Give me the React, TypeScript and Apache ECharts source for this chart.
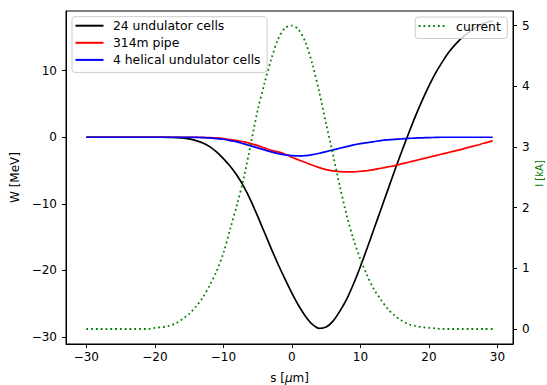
import React, { useEffect, useRef } from 'react';
import * as echarts from 'echarts';

const S = [
  -30, -29, -28, -27, -26, -25, -24, -23, -22, -21,
  -20, -19, -18, -17, -16, -15, -14, -13, -12, -11,
  -10, -9, -8, -7, -6, -5, -4, -3, -2, -1,
  0, 1, 2, 3, 4, 5, 6, 7, 8, 9,
  10, 11, 12, 13, 14, 15, 16, 17, 18, 19,
  20, 21, 22, 23, 24, 25, 26, 27, 28, 29.3,
];

const W_UNDULATOR = [
  0, 0, 0, 0, 0, 0, 0, 0, 0, 0,
  0, 0, -0.02, -0.05, -0.1, -0.25, -0.5, -0.85, -1.4, -2.2,
  -3.2, -4.35, -5.75, -7.45, -9.5, -11.85, -14.3, -16.75, -19.1, -21.3,
  -23.4, -25.3, -26.9, -28.1, -28.7, -28.5, -27.6, -26.1, -24.3, -22.0,
  -19.4, -16.6, -13.7, -10.8, -7.9, -5.0, -2.2, 0.5, 3.1, 5.5,
  7.7, 9.7, 11.4, 12.9, 14.1, 15.1, 15.9, 16.6, 17.1, 17.5,
];

const W_PIPE = [
  0, 0, 0, 0, 0, 0, 0, 0, 0, 0,
  0, 0, 0, 0, 0, 0, 0, -0.02, -0.05, -0.1,
  -0.2, -0.35, -0.5, -0.7, -0.95, -1.25, -1.6, -1.95, -2.2, -2.55,
  -3.0, -3.4, -3.8, -4.2, -4.55, -4.85, -5.05, -5.15, -5.2, -5.2,
  -5.1, -5.0, -4.85, -4.65, -4.45, -4.25, -4.0, -3.75, -3.5, -3.25,
  -3.0, -2.75, -2.5, -2.25, -2.0, -1.75, -1.45, -1.2, -0.9, -0.55,
];

const W_HELICAL = [
  0, 0, 0, 0, 0, 0, 0, 0, 0, 0,
  0, 0, 0, 0, 0, 0, -0.02, -0.05, -0.1, -0.2,
  -0.3, -0.5, -0.7, -1.0, -1.3, -1.6, -1.9, -2.2, -2.45, -2.65,
  -2.75, -2.8, -2.75, -2.6, -2.4, -2.15, -1.9, -1.65, -1.4, -1.15,
  -0.95, -0.8, -0.65, -0.5, -0.4, -0.32, -0.25, -0.18, -0.12, -0.08,
  -0.05, -0.02, 0, 0, 0, 0, 0, 0, 0, 0,
];

const CURRENT = [
  0, 0, 0, 0, 0, 0, 0, 0, 0, 0,
  0.02, 0.03, 0.05, 0.09, 0.16, 0.25, 0.37, 0.52, 0.72, 0.95,
  1.25, 1.65, 2.05, 2.5, 3.05, 3.6, 4.05, 4.45, 4.78, 4.96,
  5.0, 4.93, 4.72, 4.36, 3.9, 3.38, 2.87, 2.35, 1.87, 1.47,
  1.15, 0.88, 0.65, 0.48, 0.33, 0.22, 0.14, 0.08, 0.05, 0.03,
  0.02, 0.01, 0, 0, 0, 0, 0, 0, 0, 0,
];

const X_TICKS = [-30, -20, -10, 0, 10, 20, 30];
const W_TICKS = [-30, -20, -10, 0, 10];
const I_TICKS = [0, 1, 2, 3, 4, 5];

const FONT = 'DejaVu Sans';
const fmt = (v: number) => String(v).replace('-', '\u2212');

const pairs = (ys: number[]) => S.map((s, i) => [s, ys[i]]);

export default function App() {
  const ref = useRef<HTMLDivElement>(null);
  useEffect(() => {
    if (!ref.current) return;
    const chart = echarts.init(ref.current, undefined, { renderer: 'svg' });
    const axisCommon = {
      axisLine: { show: true, onZero: false, lineStyle: { color: '#000', width: 1 } },
      splitLine: { show: false },
    };
    const legendCommon = {
      orient: 'vertical' as const,
      backgroundColor: 'rgba(255,255,255,0.8)',
      borderColor: '#cccccc',
      borderWidth: 1,
      borderRadius: 3,
      padding: [3, 6.5, 6.5, 2.5],
      itemWidth: 28,
      itemHeight: 14,
      itemGap: 5.1,
      itemStyle: { opacity: 0 },
      textStyle: { fontFamily: FONT, fontSize: 12.4, color: '#000', padding: [0, 0, 0, 4.4] },
    };
    chart.setOption({
      animation: false,
      backgroundColor: '#fff',
      grid: {
        left: 66, right: 34, top: 11, bottom: 41,
        show: true, borderColor: '#000', borderWidth: 1,
        outerBoundsMode: 'none',
      },
      legend: [
        { ...legendCommon, left: 72, top: 16.7, data: ['24 undulator cells', '314m pipe', '4 helical undulator cells'] },
        { ...legendCommon, right: 39.7, top: 17, data: ['current'] },
      ],
      graphic: [
        {
          type: 'text', x: 539.5, y: 173.5, rotation: Math.PI / 2, silent: true,
          style: { text: 'I [kA]', fontFamily: FONT, fontSize: 10, fill: '#008000', align: 'center', verticalAlign: 'middle' },
        },
      ],
      xAxis: {
        type: 'value', min: -32.965, max: 32.265,
        ...axisCommon,
        axisTick: { show: true, length: 4, lineStyle: { color: '#000' }, customValues: X_TICKS },
        axisLabel: { customValues: X_TICKS, formatter: fmt, color: '#000', fontSize: 12, fontFamily: FONT, margin: 7 },
        name: '{a|s [}{b|\u03bc}{a|m]}',
        nameLocation: 'middle',
        nameGap: 28,
        nameTextStyle: {
          rich: {
            a: { fontFamily: FONT, fontSize: 12, color: '#000' },
            b: { fontFamily: FONT, fontSize: 12, color: '#000', fontStyle: 'italic' },
          },
        },
      },
      yAxis: [
        {
          type: 'value', min: -31.04, max: 18.96, position: 'left',
          ...axisCommon,
          axisTick: { show: true, length: 4, lineStyle: { color: '#000' }, customValues: W_TICKS },
          axisLabel: { customValues: W_TICKS, formatter: fmt, color: '#000', fontSize: 12, fontFamily: FONT, margin: 9 },
          name: 'W [MeV]', nameLocation: 'middle', nameRotate: 90, nameGap: 39,
          nameTextStyle: { fontFamily: FONT, fontSize: 12, color: '#000' },
        },
        {
          type: 'value', min: -0.247, max: 5.24, position: 'right',
          ...axisCommon,
          axisTick: { show: true, length: 4, lineStyle: { color: '#000' }, customValues: I_TICKS },
          axisLabel: { customValues: I_TICKS, formatter: fmt, color: '#000', fontSize: 12, fontFamily: FONT, margin: 9 },
        },
      ],
      series: [
        {
          name: '24 undulator cells', type: 'line', symbol: 'none', smooth: 0.3,
          data: pairs(W_UNDULATOR), lineStyle: { color: '#000000', width: 1.7 }, itemStyle: { color: '#000000' },
        },
        {
          name: '314m pipe', type: 'line', symbol: 'none', smooth: 0.3,
          data: pairs(W_PIPE), lineStyle: { color: '#ff0000', width: 1.7 }, itemStyle: { color: '#ff0000' },
        },
        {
          name: '4 helical undulator cells', type: 'line', symbol: 'none', smooth: 0.3,
          data: pairs(W_HELICAL), lineStyle: { color: '#0000ff', width: 1.7 }, itemStyle: { color: '#0000ff' },
        },
        {
          name: 'current', type: 'line', symbol: 'none', smooth: 0.3, yAxisIndex: 1,
          data: pairs(CURRENT), lineStyle: { color: '#008000', width: 1.8, type: [1.8, 3] }, itemStyle: { color: '#008000' },
        },
      ],
    });
    return () => chart.dispose();
  }, []);
  return <div ref={ref} style={{ position: 'absolute', left: 0, top: 0, width: 547, height: 385 }} />;
}
